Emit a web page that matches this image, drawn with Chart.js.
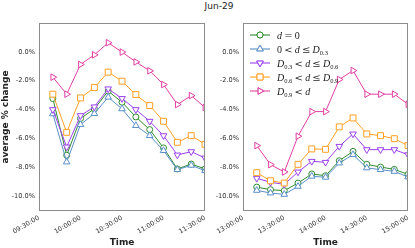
<!DOCTYPE html>
<html>
<head>
<meta charset="utf-8">
<script src="https://cdn.jsdelivr.net/npm/chart.js@4"></script>
<style>
  html, body { margin: 0; padding: 0; background: #fff; }
  #wrap { position: relative; width: 415px; height: 248px; overflow: hidden; }
  #title { position: absolute; top: 1px; left: 189px; width: 60px; text-align: center;
           font: 9px "DejaVu Sans", sans-serif; color: #222; }
  canvas { position: absolute; top: 0; }
  #left { left: 0; }
  #right { left: 210px; }
</style>
</head>
<body>
<div id="wrap">
  <div id="title">Jun-29</div>
  <canvas id="left" width="212" height="248"></canvas>
  <canvas id="right" width="205" height="248"></canvas>
</div>
<script>
// minutes since midnight
const timesAM = [580, 590, 600, 610, 620, 630, 640, 650, 660, 670, 680, 690];
const timesPM = [790, 800, 810, 820, 830, 840, 850, 860, 870, 880, 890, 900];
const yTicks = [-10, -8, -6, -4, -2, 0];

// morning panel (average % change)
const am_d0   = [-3.24, -7.18, -4.63, -3.96, -2.73, -3.50, -4.52, -5.40, -6.67, -8.13, -7.79, -8.13];
const am_d03  = [-4.31, -7.65, -5.05, -4.29, -3.15, -3.96, -5.12, -5.82, -6.86, -8.18, -7.88, -8.25];
const am_d06  = [-4.01, -6.60, -4.43, -3.82, -2.57, -3.24, -4.01, -4.82, -5.82, -7.16, -6.93, -7.37];
const am_d09  = [-2.94, -5.59, -3.20, -2.48, -1.41, -2.04, -2.97, -3.73, -4.82, -6.28, -5.82, -6.42];
const am_top  = [-1.76, -2.94, -0.88, -0.21, 0.63, -0.02, -0.70, -1.32, -2.27, -3.66, -3.04, -3.87];

// afternoon panel
const pm_d0   = [-9.39, -9.57, -9.64, -9.11, -8.48, -8.60, -7.56, -6.91, -7.81, -8.00, -8.16, -8.51];
const pm_d03  = [-9.62, -9.80, -9.90, -9.34, -8.64, -8.71, -7.72, -7.14, -8.06, -8.18, -8.30, -8.69];
const pm_d06  = [-8.78, -9.06, -9.20, -8.34, -7.60, -7.67, -6.56, -5.70, -6.79, -6.79, -6.79, -7.14];
const pm_d09  = [-8.39, -8.95, -9.11, -7.81, -6.74, -6.77, -5.21, -4.59, -5.70, -5.82, -6.03, -6.51];
const pm_top  = [-6.51, -7.83, -8.34, -5.86, -4.15, -4.15, -1.92, -1.30, -2.94, -2.94, -2.94, -3.64];

const colors = ['#2e8b2e', '#5a8fc8', '#9b40ec', '#ffa024', '#e23fa4'];
const shapes = [
  { style: 'circle', rot: 0, r: 3 },
  { style: 'triangle', rot: 0, r: 3.8 },
  { style: 'triangle', rot: 180, r: 3.8 },
  { style: 'rect', rot: 0, r: 4.2 },
  { style: 'triangle', rot: 90, r: 3.8 }
];
// legend labels as segments: i = italic, s = subscript, r = relation (spaced)
const legendLabels = [
  [['d', 'i'], ['=', 'r'], ['0', '']],
  [['0', ''], ['<', 'r'], ['d', 'i'], ['≤', 'r'], ['D', 'i'], ['0.3', 's']],
  [['D', 'i'], ['0.3', 's'], ['<', 'r'], ['d', 'i'], ['≤', 'r'], ['D', 'i'], ['0.6', 's']],
  [['D', 'i'], ['0.6', 's'], ['<', 'r'], ['d', 'i'], ['≤', 'r'], ['D', 'i'], ['0.9', 's']],
  [['D', 'i'], ['0.9', 's'], ['<', 'r'], ['d', 'i']]
];

function fmtTime(m) {
  const h = Math.floor(m / 60), mm = m % 60;
  return String(h).padStart(2, '0') + ':' + String(mm).padStart(2, '0') + ':00';
}

function makeDatasets(xs, series) {
  return series.map((ys, i) => ({
    data: xs.map((x, k) => ({ x: x, y: ys[k] })),
    borderColor: colors[i],
    backgroundColor: '#ffffff',
    borderWidth: 1,
    pointStyle: shapes[i].style,
    pointRotation: shapes[i].rot,
    pointRadius: shapes[i].r,
    pointBorderWidth: 1,
    pointBackgroundColor: '#ffffff',
    pointBorderColor: colors[i],
    order: 5 - i,
    tension: 0
  }));
}

const framePlugin = {
  id: 'frame',
  afterDraw(chart) {
    const a = chart.chartArea, ctx = chart.ctx;
    ctx.save();
    ctx.strokeStyle = '#8c8c8c';
    ctx.lineWidth = 1;
    ctx.strokeRect(Math.round(a.left) + 0.5, Math.round(a.top) + 0.5,
                   Math.round(a.right - a.left) - 1, Math.round(a.bottom - a.top) - 1);
    ctx.restore();
  }
};

const legendPlugin = {
  id: 'mathLegend',
  afterDraw(chart) {
    const ctx = chart.ctx;
    ctx.save();
    legendLabels.forEach((segs, i) => {
      const y = 35 + i * 14;
      ctx.globalAlpha = 0.55;
      ctx.strokeStyle = colors[i];
      ctx.lineWidth = 2;
      ctx.beginPath();
      ctx.moveTo(40, y); ctx.lineTo(60, y);
      ctx.stroke();
      ctx.globalAlpha = 1;
      ctx.lineWidth = 1;
      ctx.fillStyle = '#fff';
      Chart.helpers.drawPoint(ctx, { pointStyle: shapes[i].style, rotation: shapes[i].rot,
        radius: shapes[i].r, borderWidth: 1 }, 50, y);
      ctx.fill();
      ctx.stroke();
      let x = 67;
      ctx.fillStyle = '#222';
      ctx.textBaseline = 'alphabetic';
      segs.forEach(([t, f]) => {
        if (f === 's') {
          ctx.font = '6.5px "Liberation Serif", serif';
          ctx.fillText(t, x, y + 6);
          x += ctx.measureText(t).width;
        } else if (f === 'r') {
          ctx.font = '10px "DejaVu Serif", serif';
          x += 2.2;
          ctx.fillText(t, x, y + 3.5);
          x += ctx.measureText(t).width + 2.2;
        } else {
          ctx.font = (f === 'i' ? 'italic ' : '') + '10px "Liberation Serif", serif';
          ctx.fillText(t, x, y + 3.5);
          x += ctx.measureText(t).width;
        }
      });
    });
    ctx.restore();
  }
};

function makeChart(id, xs, series, xmin, xmax, yWidth, showTitle, padRight, extraPlugins) {
  return new Chart(document.getElementById(id), {
    type: 'line',
    data: { datasets: makeDatasets(xs, series) },
    options: {
      responsive: false,
      animation: false,
      layout: { padding: { top: 23, right: padRight, left: 0, bottom: 0 } },
      plugins: { legend: { display: false }, tooltip: { enabled: false } },
      scales: {
        x: {
          type: 'linear', min: xmin, max: xmax,
          grid: { display: false, drawTicks: false },
          border: { display: false },
          afterBuildTicks: s => { s.ticks = [0, 30, 60, 90, 120].map(v => ({ value: xmin + v })); },
          afterFit: s => { s.height = 37; },
          ticks: {
            minRotation: 30, maxRotation: 30, padding: 3,
            color: '#333', font: { family: 'DejaVu Sans', size: 6.6 },
            callback: v => fmtTime(v)
          },
          title: { display: true, text: 'Time', color: '#222', padding: { top: 0, bottom: 0 },
                   font: { family: 'DejaVu Sans', size: 9, weight: 'bold' } }
        },
        y: {
          min: -11.05, max: 2.0,
          grid: { display: false, drawTicks: false },
          border: { display: false },
          afterBuildTicks: s => { s.ticks = yTicks.map(v => ({ value: v })); },
          afterFit: s => { s.width = yWidth; },
          ticks: {
            padding: 4, color: '#333', font: { family: 'DejaVu Sans', size: 6.6 },
            callback: v => v.toFixed(1) + '%'
          },
          title: { display: showTitle, text: 'average % change', color: '#222',
                   padding: { top: 0, bottom: 0 },
                   font: { family: 'DejaVu Sans', size: 9, weight: 'bold' } }
        }
      }
    },
    plugins: [framePlugin].concat(extraPlugins)
  });
}

makeChart('left', timesAM, [am_d0, am_d03, am_d06, am_d09, am_top], 570, 690, 39, true, 3, []);
makeChart('right', timesPM, [pm_d0, pm_d03, pm_d06, pm_d09, pm_top], 780, 900, 33, false, 1, [legendPlugin]);
</script>
</body>
</html>
